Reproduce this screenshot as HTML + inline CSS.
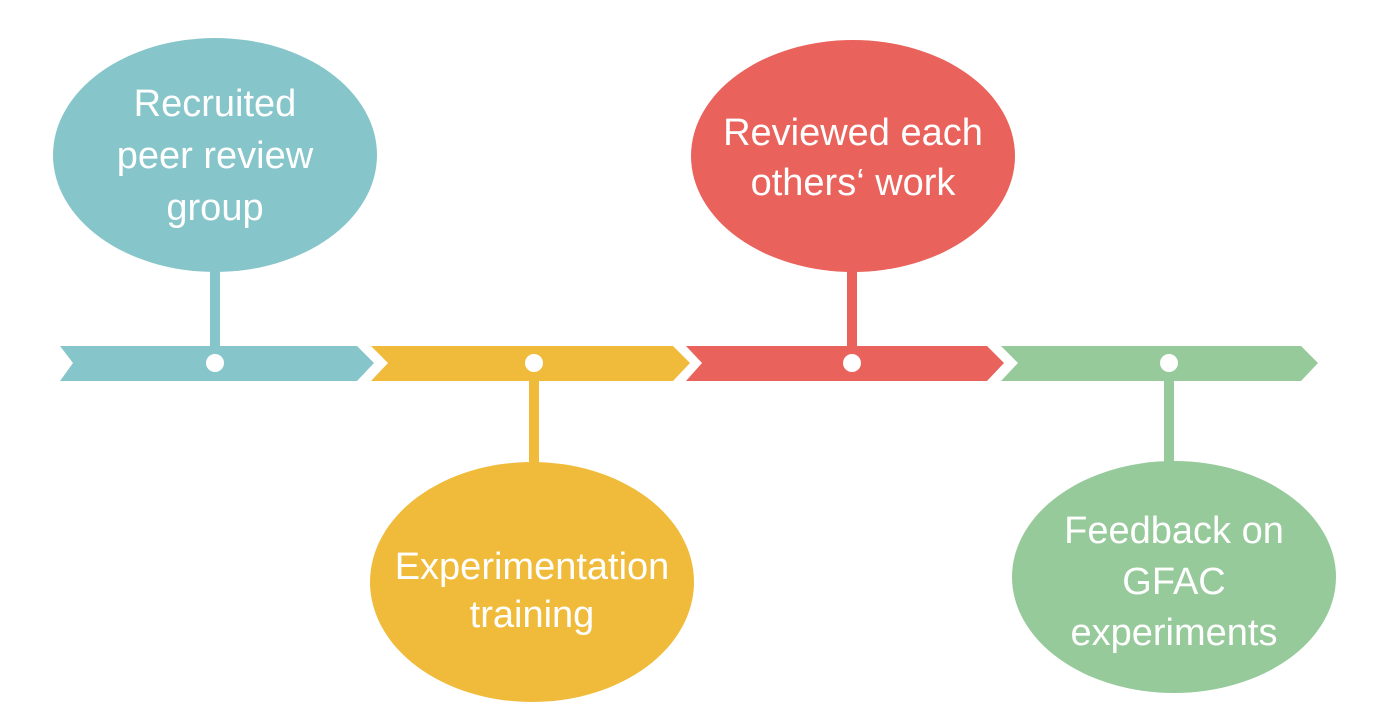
<!DOCTYPE html>
<html><head><style>
body{margin:0;background:#fff;}
svg text{font-family:"Liberation Sans",sans-serif;fill:#fff;font-size:38px;text-anchor:middle;}
</style></head><body>
<svg width="1379" height="708" viewBox="0 0 1379 708">
<rect x="210" y="250" width="10" height="110" fill="#86c5c9"/>
<rect x="529" y="365" width="10" height="110" fill="#f0bb3a"/>
<rect x="847" y="250" width="10" height="110" fill="#e9625b"/>
<rect x="1164" y="365" width="10" height="110" fill="#96ca9a"/>
<polygon points="60,346 357,346 374,363 357,381 60,381 73,363" fill="#86c5c9"/>
<polygon points="371,346 673,346 690,363 673,381 371,381 388,363" fill="#f0bb3a"/>
<polygon points="686,346 987,346 1004,363 987,381 686,381 702,363" fill="#e9625b"/>
<polygon points="1001,346 1301,346 1318,363 1301,381 1001,381 1018,363" fill="#96ca9a"/>
<circle cx="215" cy="363" r="9" fill="#fff"/>
<circle cx="534" cy="363" r="9" fill="#fff"/>
<circle cx="852" cy="363" r="9" fill="#fff"/>
<circle cx="1169" cy="363" r="9" fill="#fff"/>
<ellipse cx="215" cy="155" rx="162" ry="117" fill="#86c5c9"/>
<ellipse cx="853" cy="156" rx="162" ry="116" fill="#e9625b"/>
<ellipse cx="532" cy="582" rx="162" ry="120" fill="#f0bb3a"/>
<ellipse cx="1174" cy="577" rx="162" ry="116" fill="#96ca9a"/>
<text x="215" y="116">Recruited</text>
<text x="215" y="168">peer review</text>
<text x="215" y="220">group</text>
<text x="853" y="145">Reviewed each</text>
<text x="853" y="195">others‘ work</text>
<text x="532" y="579">Experimentation</text>
<text x="532" y="627">training</text>
<text x="1174" y="543">Feedback on</text>
<text x="1174" y="594">GFAC</text>
<text x="1174" y="645">experiments</text>
</svg>
</body></html>
